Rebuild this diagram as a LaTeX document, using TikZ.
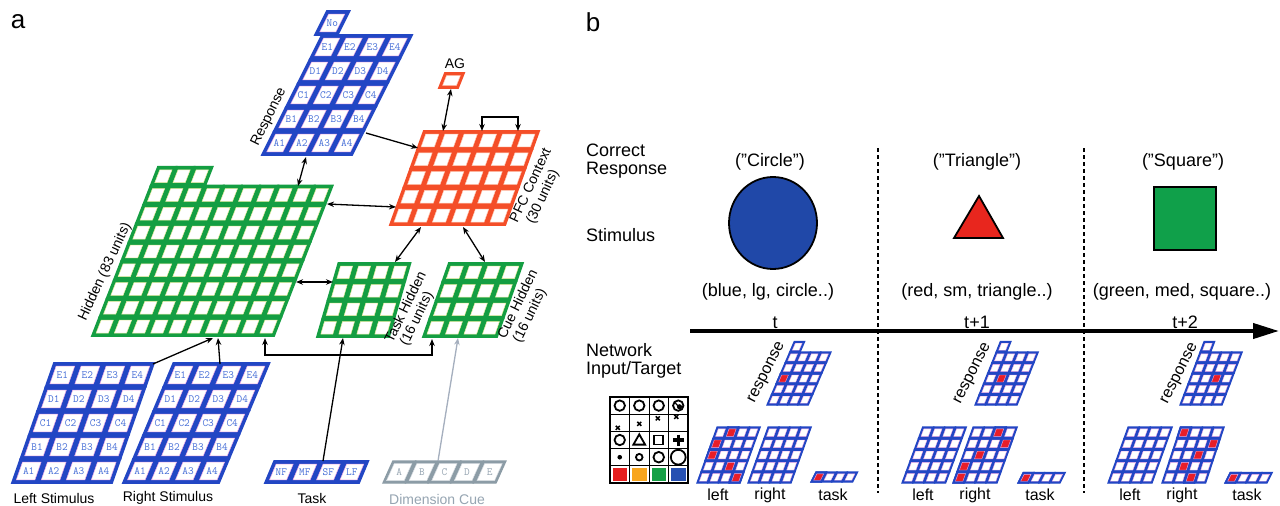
\documentclass[tikz,border=0pt]{standalone}
\usepackage{fontspec}
\setmainfont{Liberation Sans}
\usetikzlibrary{arrows.meta}
\definecolor{gblue}{RGB}{34,70,196}
\definecolor{gpink}{RGB}{235,170,228}
\definecolor{celltext}{RGB}{70,110,215}
\definecolor{ggreen}{RGB}{20,158,66}
\definecolor{gyel}{RGB}{232,236,160}
\definecolor{gorange}{RGB}{244,78,40}
\definecolor{gorlight}{RGB}{255,200,180}
\definecolor{ggray}{RGB}{140,156,166}
\definecolor{ggraylight}{RGB}{215,220,225}
\definecolor{graytext}{RGB}{150,165,178}
\definecolor{cuearrow}{RGB}{165,175,190}
\definecolor{cellred}{RGB}{232,30,40}
\definecolor{stimblue}{RGB}{32,72,168}
\definecolor{stimred}{RGB}{232,38,30}
\definecolor{stimgreen}{RGB}{16,160,74}
\definecolor{legred}{RGB}{230,32,32}
\definecolor{legorange}{RGB}{248,165,30}
\definecolor{leggreen}{RGB}{22,160,70}
\definecolor{legblue}{RGB}{38,80,178}
\colorlet{gframe}{gblue}
\colorlet{gedge}{gpink}
\colorlet{gtext}{celltext}
\def\gap{2}\def\gLw{1.4}\def\gEw{0.5}
\newcommand{\setgrid}[5]{\def\gX{#1}\def\gY{#2}\def\gW{#3}\def\gH{#4}\def\gK{#5}}
\newcommand{\gpos}[2]{\pgfmathsetmacro\gcx{\gX+(#1)*\gW+(#2)*\gH*\gK}\pgfmathsetmacro\gcy{\gY-(#2)*\gH}}
\newcommand{\gcell}[3]{%
  \gpos{#1}{#2}%
  \filldraw[fill=gframe, draw=gframe, line width=\gLw pt] (\gcx,\gcy) -- ++(\gW,0) -- ++({\gK*\gH},{-\gH}) -- ++({-\gW},0) -- cycle;
  \pgfmathsetmacro\giw{\gW-2*\gap}\pgfmathsetmacro\gih{\gH-2*\gap}%
  \filldraw[fill=#3, draw=gedge, line width=\gEw pt] ({\gcx+\gap+\gK*\gap},{\gcy-\gap}) -- ++(\giw,0) -- ++({\gK*\gih},{-\gih}) -- ++({-\giw},0) -- cycle;
}
\newcommand{\ggrid}[2]{%
  \pgfmathtruncatemacro\gcl{#1-1}\pgfmathtruncatemacro\grl{#2-1}%
  \foreach \gi in {0,...,\gcl}{\foreach \gj in {0,...,\grl}{\gcell{\gi}{\gj}{white}}}}
\newcommand{\glab}[4]{%
  \gpos{#2}{#3}%
  \node[celltxt] (#1) at ({\gcx+\gW/2+\gK*\gH/2},{\gcy-\gH/2}) {#4};}
\newcommand{\stimlabels}[1]{%
  \foreach \L [count=\n from 0] in {A,B,C,D,E}{\foreach \cn in {1,...,4}{\pgfmathtruncatemacro\cc{\cn-1}\glab{#1\L\cn}{\cc}{\n}{\L\cn}}}}
\newcommand{\xmk}[2]{\draw[line width=1.5pt] ({#1-2},{#2-2}) -- ({#1+2},{#2+2}) ({#1-2},{#2+2}) -- ({#1+2},{#2-2});}
\tikzset{
  lbl/.style={font=\fontsize{14}{15}\selectfont, inner sep=0pt},
  blbl/.style={font=\fontsize{18}{18}\selectfont, inner sep=0pt},
  slbl/.style={font=\fontsize{16}{16}\selectfont, inner sep=0pt},
  celltxt/.style={font=\fontsize{11}{11}\selectfont\ttfamily, text=gtext, inner sep=0pt},
  arr/.style={line width=1.3pt, -{Stealth[length=7pt,width=5.5pt]}},
  darr/.style={line width=1.3pt, {Stealth[length=7pt,width=5.5pt]}-{Stealth[length=7pt,width=5.5pt]}},
  dashline/.style={line width=2pt, dash pattern=on 4pt off 3pt},
  sym/.style={line width=1.8pt},
  shapeline/.style={line width=1.8pt, draw=black},
}
\begin{document}
\begin{tikzpicture}[x=1pt,y=-1pt]
\useasboundingbox (0,0) rectangle (1280,506);
\fill[white] (0,0) rectangle (1280,506);
% ================= panel a =================
\node[font=\fontsize{26}{26}\selectfont, inner sep=0pt] (la) at (18,22) {a};
% Response
\colorlet{gframe}{gblue}\colorlet{gedge}{gpink}\def\gap{3.2}\def\gLw{1.8}
\setgrid{262}{155}{22.5}{24}{0.5}
\ggrid{4}{5}
\stimlabels{r}
\setgrid{255}{155}{22.5}{24}{0.5}
\gcell{0}{5}{white}\glab{rNo}{0}{5}{No}
% PFC
\colorlet{gframe}{gorange}\colorlet{gedge}{gorlight}\def\gap{3}
\setgrid{390}{225}{19.2}{18.8}{0.36}
\ggrid{6}{5}
\def\gap{2.6}
\setgrid{439}{88}{19}{15}{0.4}
\gcell{0}{0}{white}
% Hidden
\colorlet{gframe}{ggreen}\colorlet{gedge}{gyel}\def\gap{3}
\setgrid{92}{336}{18.2}{18.8}{0.39}
\ggrid{10}{8}
\foreach \gi in {0,1,2}{\gcell{\gi}{8}{white}}
% Task hidden
\setgrid{317}{337}{18}{18.5}{0.29}
\ggrid{4}{4}
% Cue hidden
\setgrid{423}{337}{18.5}{18.5}{0.35}
\ggrid{4}{4}
% Left / right stimulus
\colorlet{gframe}{gblue}\colorlet{gedge}{gpink}\def\gap{3.2}
\setgrid{12}{483}{25}{24}{0.35}
\ggrid{4}{5}
\stimlabels{ls}
\setgrid{123}{483}{24}{24}{0.42}
\ggrid{4}{5}
\stimlabels{rs}
% Task
\setgrid{265}{483}{23.5}{22}{0.42}
\ggrid{4}{1}
\foreach \t [count=\n from 0] in {NF,MF,SF,LF}{\glab{tk\t}{\n}{0}{\t}}
% Dimension cue
\colorlet{gframe}{ggray}\colorlet{gedge}{ggraylight}\colorlet{gtext}{graytext}\def\gap{2.5}\def\gLw{1.3}
\setgrid{383}{483}{22.6}{22}{0.45}
\ggrid{5}{1}
\foreach \t [count=\n from 0] in {A,B,C,D,E}{\glab{dc\t}{\n}{0}{\t}}
\colorlet{gtext}{celltext}
% labels
\node[lbl] (agLbl) at (455,64) {AG};
\node[lbl, rotate=64] (respLbl) at (269,117) {Response};
\node[lbl, rotate=65] (pfcLbl1) at (530,185) {PFC Context};
\node[lbl, rotate=65] (pfcLbl2) at (543,197) {(30 units)};
\node[lbl, rotate=65] (hidLbl) at (105,272) {Hidden (83 units)};
\node[lbl, rotate=64] (thLbl1) at (405,307) {Task Hidden};
\node[lbl, rotate=64] (thLbl2) at (417,319) {(16 units)};
\node[lbl, rotate=64] (chLbl1) at (517,304) {Cue Hidden};
\node[lbl, rotate=64] (chLbl2) at (530,316) {(16 units)};
\node[lbl] (lsLbl) at (54,498) {Left Stimulus};
\node[lbl] (rsLbl) at (168,498) {Right Stimulus};
\node[lbl] (tkLbl) at (312,498) {Task};
\node[lbl, text=graytext] (dcLbl) at (437,499) {Dimension Cue};
% connectors
\coordinate (respB) at (306,157); \coordinate (hidT) at (298,186);
\coordinate (respR) at (366,133); \coordinate (pfcUL) at (418,148);
\coordinate (pfcT1) at (443,131); \coordinate (agB) at (451,89);
\coordinate (pfcT2) at (482,131); \coordinate (pfcT3) at (518,131);
\coordinate (hidR1) at (327,204); \coordinate (pfcL) at (396,207);
\coordinate (pfcB1) at (421,227); \coordinate (thT) at (395,262);
\coordinate (pfcB2) at (463,227); \coordinate (chT) at (485,262);
\coordinate (hidR2) at (296,282); \coordinate (thL) at (333,282);
\coordinate (hidB) at (265,338); \coordinate (chB) at (432,339);
\coordinate (lsT) at (153,364); \coordinate (hidB1) at (213,338);
\coordinate (rsT) at (220,364); \coordinate (hidB2) at (218,338);
\coordinate (tkT) at (323,461); \coordinate (thB) at (343,338);
\coordinate (dcT) at (438,461); \coordinate (chB2) at (458,338);
\draw[darr] (respB) -- (hidT);
\draw[arr] (respR) -- (pfcUL);
\draw[darr] (pfcT1) -- (agB);
\draw[darr] (pfcT2) -- ++(0,-14) -| (pfcT3);
\draw[darr] (hidR1) -- (pfcL);
\draw[darr] (pfcB1) -- (thT);
\draw[darr] (pfcB2) -- (chT);
\draw[darr] (hidR2) -- (thL);
\draw[darr] (hidB) -- ++(0,17) -| (chB);
\draw[arr] (lsT) -- (hidB1);
\draw[arr] (rsT) -- (hidB2);
\draw[arr] (tkT) -- (thB);
\draw[arr, draw=cuearrow, fill=cuearrow] (dcT) -- (chB2);
% ================= panel b =================
\node[font=\fontsize{26}{26}\selectfont, inner sep=0pt] (lb) at (593,22) {b};
\node[blbl, anchor=west, align=left] (crLbl) at (586,161) {Correct\\Response};
\node[blbl, anchor=west] (stLbl) at (586,235) {Stimulus};
\node[blbl, anchor=west, align=left] (niLbl) at (586,361) {Network\\Input/Target};
\node[blbl] (c1) at (770,162) {("Circle")};
\node[blbl] (c2) at (977,162) {("Triangle")};
\node[blbl] (c3) at (1183,162) {("Square")};
\filldraw[fill=stimblue, shapeline] (773,223) ellipse (44 and 46);
\filldraw[fill=stimred, shapeline, line join=miter] (979,196) -- (954,238) -- (1003,238) -- cycle;
\filldraw[fill=stimgreen, shapeline] (1154,187) rectangle (1216,250);
\node[blbl] (f1) at (768,292) {(blue, lg, circle..)};
\node[blbl] (f2) at (977,292) {(red, sm, triangle..)};
\node[blbl] (f3) at (1182,292) {(green, med, square..)};
\node[blbl, anchor=base] (t0) at (775,328) {t};
\node[blbl, anchor=base] (t1) at (977,328) {t+1};
\node[blbl, anchor=base] (t2) at (1185,328) {t+2};
\coordinate (ax0) at (690,331); \coordinate (ax1) at (1279,331);
\draw[line width=4pt, -{Triangle[length=26pt,width=15pt]}] (ax0) -- (ax1);
\coordinate (d1t) at (878,148); \coordinate (d1b) at (878,493);
\coordinate (d2t) at (1084,148); \coordinate (d2b) at (1084,493);
\draw[dashline] (d1t) -- (d1b);
\draw[dashline] (d2t) -- (d2b);
% small grids
\colorlet{gframe}{gblue}\colorlet{gedge}{gpink}\def\gap{1.8}\def\gLw{1.3}\def\gEw{0.4}
% t
\setgrid{767}{405}{10.3}{10.6}{0.43}\ggrid{4}{5}\gcell{0}{5}{white}\gcell{0}{2}{cellred}
\setgrid{697}{483}{10.75}{11.2}{0.36}\ggrid{4}{5}
\gcell{1}{4}{cellred}\gcell{0}{3}{cellred}\gcell{0}{2}{cellred}\gcell{2}{1}{cellred}\gcell{3}{0}{cellred}
\setgrid{748}{483}{10.75}{11.2}{0.36}\ggrid{4}{5}
\setgrid{811}{482}{10.4}{10}{0.5}\ggrid{4}{1}\gcell{0}{0}{cellred}
% t+1
\setgrid{975}{405}{10.5}{10.6}{0.4}\ggrid{4}{5}\gcell{0}{5}{white}\gcell{1}{2}{cellred}
\setgrid{902}{483}{10.9}{11.2}{0.37}\ggrid{4}{5}
\setgrid{953}{483}{11}{11.2}{0.36}\ggrid{4}{5}
\gcell{2}{4}{cellred}\gcell{3}{3}{cellred}\gcell{1}{2}{cellred}\gcell{0}{1}{cellred}\gcell{0}{0}{cellred}
\setgrid{1018}{483}{10.5}{10.5}{0.5}\ggrid{4}{1}\gcell{0}{0}{cellred}
% t+2
\setgrid{1180}{405}{10.5}{10.6}{0.38}\ggrid{4}{5}\gcell{0}{5}{white}\gcell{2}{2}{cellred}
\setgrid{1108}{483}{11}{11.2}{0.36}\ggrid{4}{5}
\setgrid{1162}{483}{10.9}{11.2}{0.33}\ggrid{4}{5}
\gcell{0}{4}{cellred}\gcell{3}{3}{cellred}\gcell{2}{2}{cellred}\gcell{1}{1}{cellred}\gcell{2}{0}{cellred}
\setgrid{1225}{483}{10.5}{10.5}{0.5}\ggrid{4}{1}\gcell{0}{0}{cellred}
% small labels
\node[slbl, rotate=63] (rl0) at (767,373) {response};
\node[slbl, rotate=63] (rl1) at (973,374) {response};
\node[slbl, rotate=63] (rl2) at (1180,374) {response};
\node[slbl] (l0) at (718,495) {left};
\node[slbl] (r0) at (770,495) {right};
\node[slbl] (k0) at (833,495) {task};
\node[slbl] (l1) at (923,495) {left};
\node[slbl] (r1) at (975,495) {right};
\node[slbl] (k1) at (1040,495) {task};
\node[slbl] (l2) at (1130,495) {left};
\node[slbl] (r2) at (1182,495) {right};
\node[slbl] (k2) at (1247,495) {task};
% legend box
\foreach \i in {1,2,3}{\draw[line width=0.8pt] ({610+\i*19.5},397) -- ({610+\i*19.5},483);}
\foreach \j in {1,2,3,4}{\draw[line width=0.8pt] (610,{397+\j*17.2}) -- (688,{397+\j*17.2});}
\fill[legred] (612.5,468) rectangle (627,481);
\fill[legorange] (632,468) rectangle (646.5,481);
\fill[leggreen] (651.5,468) rectangle (666,481);
\fill[legblue] (671,468) rectangle (685.5,481);
\draw[line width=2pt] (610,397) rectangle (688,483);
\draw[sym] (619.75,405.6) circle (5.2);
\draw[sym] (639.25,405.6) circle (5.2);
\draw[sym] (658.75,405.6) circle (5.2);
\draw[sym] (678.25,405.6) circle (5.2);
\fill (679.5,406.8) circle (2.6);
\draw[line width=1.2pt] (675,402.5) -- (678,406);
\xmk{617.75}{427.8}
\xmk{639.25}{423.8}
\xmk{657.75}{418.3}
\xmk{676.25}{416.8}
\draw[sym] (619.75,440) circle (5.2);
\draw[sym, line join=miter] (639.25,434.3) -- (633.4,444.6) -- (645.1,444.6) -- cycle;
\draw[sym] (654.25,435.5) rectangle (663.25,444.5);
\draw[line width=3.2pt] (678.25,434.5) -- (678.25,445.5) (672.75,440) -- (683.75,440);
\fill (619.75,457.2) circle (2.3);
\draw[sym] (639.25,457.2) circle (3.3);
\draw[sym] (658.75,457.2) circle (5.3);
\filldraw[fill=white, sym] (678.25,457.2) circle (7.4);
\end{tikzpicture}
\end{document}
